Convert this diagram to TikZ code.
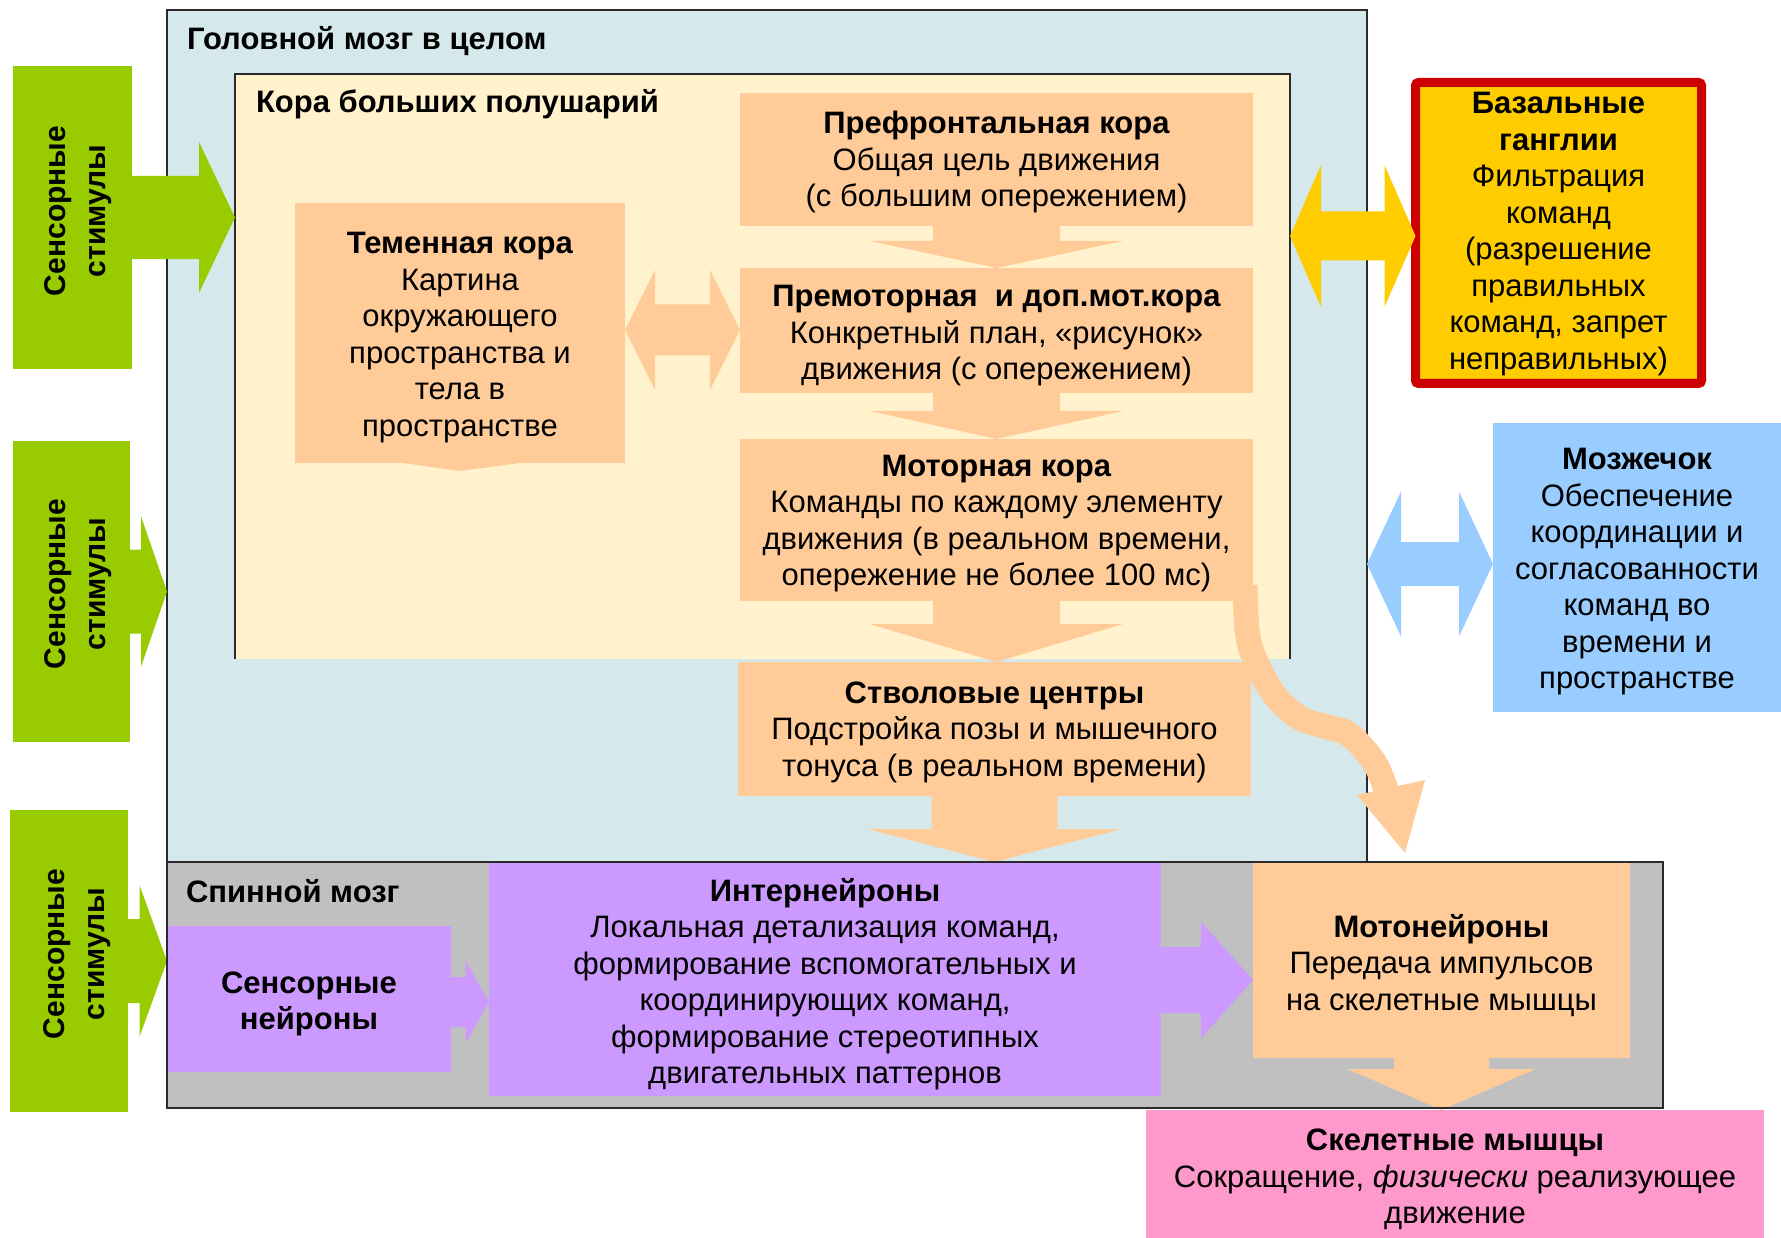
\documentclass[tikz,border=0pt]{standalone}
\usepackage{fontspec}
\setmainfont{Liberation Sans}
\usetikzlibrary{calc}

\definecolor{brainbg}{HTML}{D5E9EC}
\definecolor{cortexbg}{HTML}{FFF2CC}
\definecolor{peach}{HTML}{FFCC99}
\definecolor{stimgreen}{HTML}{99CC00}
\definecolor{spinalgray}{HTML}{C0C0C0}
\definecolor{lilac}{HTML}{CC99FF}
\definecolor{skyblue}{HTML}{99CCFF}
\definecolor{musclepink}{HTML}{FF99CC}
\definecolor{gangliayellow}{HTML}{FFCC00}
\definecolor{gangliared}{HTML}{CC0000}
\definecolor{framegray}{HTML}{2A2A2A}

\tikzset{
  area/.style={inner sep=0pt, outer sep=0pt, draw=none},
  frameline/.style={draw=framegray, line width=2pt},
  txt/.style={inner sep=0pt, outer sep=0pt, align=center,
    font=\fontsize{31}{36.5}\selectfont,
    execute at begin node=\strut, execute at end node=\strut},
  ttl/.style={txt, anchor=west, font=\bfseries\fontsize{31}{36.5}\selectfont},
  stimtxt/.style={txt, rotate=90, font=\bfseries\fontsize{30}{40}\selectfont},
}

% horizontal block arrow: tail, tip, shaft half-height, head half-height, head length, colour
\newcommand\hsingle[6]{%
  \fill[#6] let \p1=#1, \p2=#2 in
    (\x1,\y2+#3pt) -- (\x2-#5pt,\y2+#3pt) -- (\x2-#5pt,\y2+#4pt) -- (\x2,\y2)
    -- (\x2-#5pt,\y2-#4pt) -- (\x2-#5pt,\y2-#3pt) -- (\x1,\y2-#3pt) -- cycle;}
% downward block arrow: tail, tip, shaft half-width, head half-width, head length, colour
\newcommand\vsingle[6]{%
  \fill[#6] let \p1=#1, \p2=#2 in
    (\x2-#3pt,\y1) -- (\x2+#3pt,\y1) -- (\x2+#3pt,\y2+#5pt) -- (\x2+#4pt,\y2+#5pt)
    -- (\x2,\y2) -- (\x2-#4pt,\y2+#5pt) -- (\x2-#3pt,\y2+#5pt) -- cycle;}
% two-headed horizontal block arrow: left tip, right tip, shaft half, head half, head length, colour
\newcommand\hdouble[6]{%
  \fill[#6] let \p1=#1, \p2=#2 in
    (\x1,\y1) -- (\x1+#5pt,\y1+#4pt) -- (\x1+#5pt,\y1+#3pt) -- (\x2-#5pt,\y1+#3pt)
    -- (\x2-#5pt,\y1+#4pt) -- (\x2,\y1) -- (\x2-#5pt,\y1-#4pt) -- (\x2-#5pt,\y1-#3pt)
    -- (\x1+#5pt,\y1-#3pt) -- (\x1+#5pt,\y1-#4pt) -- cycle;}

\begin{document}
\begin{tikzpicture}[x=1pt,y=-1pt]
\useasboundingbox (0,0) rectangle (1781,1238);

% ---------- containers ----------
\node[area, fill=brainbg, minimum width=1200, minimum height=852] (brain) at (767,436) {};
\draw[frameline] (brain.south west) -- (brain.north west) -- (brain.north east) -- (brain.south east);
\node[area, fill=cortexbg, minimum width=1055, minimum height=585] (cortex) at (762.5,366.5) {};
\draw[frameline] (cortex.south west) -- (cortex.north west) -- (cortex.north east) -- (cortex.south east);
\node[area, fill=spinalgray, minimum width=1496, minimum height=246] (spinal) at (915,985) {};

\node[ttl] (tbrain) at (187,42.5) {Головной мозг в целом};
\node[ttl] (tcortex) at (256,105.5) {Кора больших полушарий};
\node[ttl] (tspinal) at (186,895.5) {Спинной мозг};

% ---------- sensory stimuli ----------
\node[area, fill=stimgreen, minimum width=119, minimum height=303] (green1) at (72,217.5) {};
\node[area, fill=stimgreen, minimum width=117.5, minimum height=301] (green2) at (71.25,591.5) {};
\node[area, fill=stimgreen, minimum width=118, minimum height=302] (green3) at (69,961) {};
\node[stimtxt] (tg1) at (81.5,211) {Сенсорные\\стимулы};
\node[stimtxt] (tg2) at (81.5,584) {Сенсорные\\стимулы};
\node[stimtxt] (tg3) at (80.5,954) {Сенсорные\\стимулы};
\hsingle{(green1.east)}{(cortex.west |- green1.east)}{41.7}{75.5}{36}{stimgreen}
\hsingle{(green2.east)}{(brain.west |- green2.east)}{42}{75.3}{26}{stimgreen}
\hsingle{(green3.east)}{(spinal.west |- green3.east)}{42}{75.8}{27.5}{stimgreen}

% ---------- cortex ----------
\node[area, fill=peach, minimum width=513, minimum height=133] (pref) at (996.5,159.5) {};
\node[area, fill=peach, minimum width=513, minimum height=125] (premotor) at (996.5,330.5) {};
\node[area, fill=peach, minimum width=513, minimum height=162] (motor) at (996.5,520) {};
\node[area, fill=peach, minimum width=330, minimum height=260] (parietal) at (460,333) {};
\fill[peach] (396,462) -- (459,471) -- (528,462) -- cycle;

\node[txt] (tpref) at (996.5,164.5) {\textbf{Префронтальная кора}\\Общая цель движения\\(с большим опережением)};
\node[txt] (tpremotor) at (996.5,338) {\textbf{Премоторная~ и доп.мот.кора}\\Конкретный план, «рисунок»\\движения (с опережением)};
\node[txt] (tmotor) at (996.5,526) {\textbf{Моторная кора}\\Команды по каждому элементу\\движения (в реальном времени,\\опережение не более 100 мс)};
\node[txt] (tparietal) at (460,340) {\textbf{Теменная кора}\\Картина\\окружающего\\пространства и\\тела в\\пространстве};

\vsingle{(pref.south)}{(premotor.north)}{63.5}{126.5}{27}{peach}
\vsingle{(premotor.south)}{(motor.north)}{63.5}{126.5}{28}{peach}
\hdouble{(parietal.east |- 0,330)}{(premotor.west |- 0,330)}{25.5}{60}{30}{peach}

% ---------- brainstem ----------
\node[area, fill=peach, minimum width=513, minimum height=134] (stem) at (994.5,729) {};
\node[txt] (tstem) at (994.5,734.5) {\textbf{Стволовые центры}\\Подстройка позы и мышечного\\тонуса (в реальном времени)};
\vsingle{(motor.south)}{(motor.south |- stem.north)}{63.5}{126.5}{38}{peach}

% ---------- basal ganglia ----------
\node[area, fill=gangliayellow, draw=gangliared, line width=9pt, rounded corners=3pt,
      minimum width=286, minimum height=301] (basal) at (1558.5,233) {};
\node[txt] (tbasal) at (1558.5,236.5) {\textbf{Базальные}\\\textbf{ганглии}\\Фильтрация\\команд\\(разрешение\\правильных\\команд, запрет\\неправильных)};
\hdouble{(cortex.east |- 0,236)}{(basal.west |- 0,236)}{24.5}{71}{31}{gangliayellow}

% ---------- cerebellum ----------
\node[area, fill=skyblue, minimum width=288, minimum height=289] (cereb) at (1637,567.5) {};
\node[txt] (tcereb) at (1637,574) {\textbf{Мозжечок}\\Обеспечение\\координации и\\согласованности\\команд во\\времени и\\пространстве};
\hdouble{(brain.east |- 0,564)}{(cereb.west |- 0,564)}{22}{72.5}{34}{skyblue}

% ---------- spinal cord ----------
\node[area, fill=lilac, minimum width=284, minimum height=146] (sens) at (309,999) {};
\node[area, fill=lilac, minimum width=672, minimum height=234] (inter) at (825,979) {};
\node[area, fill=peach, minimum width=377, minimum height=196] (moto) at (1441.5,960) {};
\node[txt, font=\bfseries\fontsize{31}{36.5}\selectfont] (tsens) at (309,1006) {Сенсорные\\нейроны};
\node[txt] (tinter) at (825,986.5) {\textbf{Интернейроны}\\Локальная детализация команд,\\формирование вспомогательных и\\координирующих команд,\\формирование стереотипных\\двигательных паттернов};
\node[txt] (tmoto) at (1441.5,967.5) {\textbf{Мотонейроны}\\Передача импульсов\\на скелетные мышцы};
\hsingle{(sens.east |- 0,1002)}{(inter.west |- 0,1002)}{25}{41}{23.3}{lilac}
\hsingle{(inter.east |- 0,980)}{(moto.west |- 0,980)}{33}{58.3}{52}{lilac}

\vsingle{(stem.south)}{(stem.south |- spinal.north)}{63}{127}{33}{peach}

% direct motor-cortex pathway to the motoneurons
\coordinate (curvestart) at (1245,585);
\coordinate (curveend) at (1388,795);
\draw[peach, line width=25pt] plot[smooth, tension=0.6] coordinates
  {(curvestart) (1248,637) (1260,670) (1277,698) (1300,718) (1327,727) (1347,733) (1363,748) (1377,767) (curveend)};
\fill[peach] (1357,795) -- (1425,780) -- (1405,853) -- cycle;

% ---------- skeletal muscles ----------
\node[area, fill=musclepink, minimum width=618, minimum height=128] (muscles) at (1455,1174) {};
\node[txt] (tmuscles) at (1455,1182) {\textbf{Скелетные мышцы}\\Сокращение, \textit{физически} реализующее\\движение};
\vsingle{(moto.south)}{(moto.south |- muscles.north)}{47.5}{94}{41}{peach}

\draw[frameline] (spinal.south west) rectangle (spinal.north east);
\end{tikzpicture}
\end{document}
